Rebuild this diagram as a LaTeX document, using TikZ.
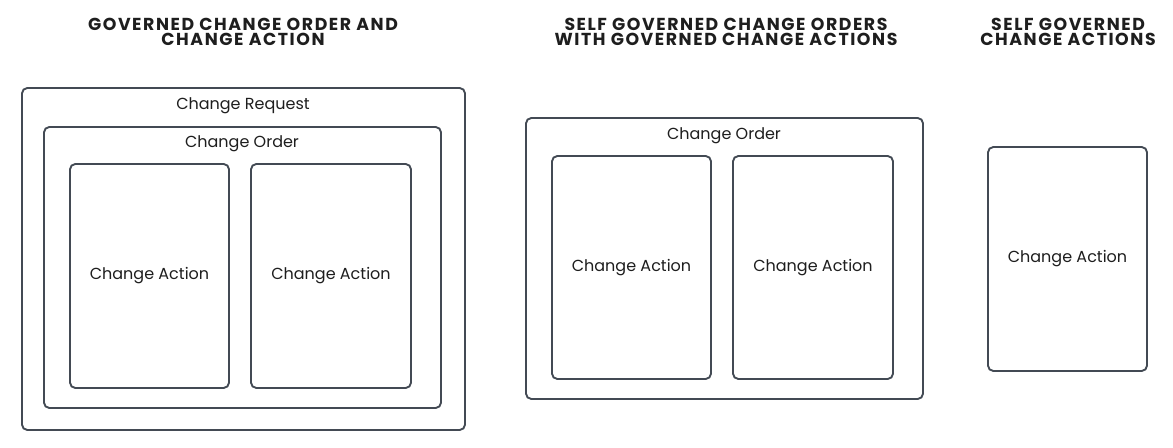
\documentclass[tikz,border=0pt]{standalone}
\usepackage{fontspec}
\setmainfont{Poppins}
\newfontfamily\titlefont[LetterSpace=9]{Poppins}
\usetikzlibrary{fit}
\definecolor{edge}{HTML}{434A54}
\definecolor{ink}{HTML}{1E1E1E}
\tikzset{
  frame/.style={draw=edge, line width=1.4pt, rounded corners=4pt, inner sep=0pt, fill=white},
  lbl/.style={text=ink, font=\fontsize{12}{14}\selectfont, inner sep=0pt},
  ttl/.style={text=ink, font=\titlefont\bfseries\fontsize{13}{11.5}\selectfont, align=center, inner sep=0pt},
}
\begin{document}
\begin{tikzpicture}[x=0.75pt,y=-0.75pt]
\useasboundingbox[fill=white] (0,0) rectangle (1173,448);
% titles
\node[ttl] (t1) at (243,32) {GOVERNED CHANGE ORDER AND\\CHANGE ACTION};
\node[ttl] (t2) at (726,32) {SELF GOVERNED CHANGE ORDERS\\WITH GOVERNED CHANGE ACTIONS};
\node[ttl] (t3) at (1068,32) {SELF GOVERNED\\CHANGE ACTIONS};
% group 1
\coordinate (r1a) at (22,88);  \coordinate (r1b) at (465,430);
\coordinate (o1a) at (44,127); \coordinate (o1b) at (441,408);
\coordinate (a1a) at (70,164); \coordinate (a1b) at (229,388);
\coordinate (a2a) at (251,164); \coordinate (a2b) at (411,388);
\node[frame, fit=(r1a)(r1b)] (cr) {};
\node[frame, fit=(o1a)(o1b)] (co1) {};
\node[frame, fit=(a1a)(a1b)] (ca1) {};
\node[frame, fit=(a2a)(a2b)] (ca2) {};
\node[lbl] (crl) at (243,106) {Change Request};
\node[lbl] (co1l) at (242,144) {Change Order};
\node[lbl] (ca1l) at (ca1.center) {Change Action};
\node[lbl] (ca2l) at (ca2.center) {Change Action};
% group 2
\coordinate (o2a) at (526,118); \coordinate (o2b) at (923,399);
\coordinate (a3a) at (552,156); \coordinate (a3b) at (711,379);
\coordinate (a4a) at (733,156); \coordinate (a4b) at (893,379);
\node[frame, fit=(o2a)(o2b)] (co2) {};
\node[frame, fit=(a3a)(a3b)] (ca3) {};
\node[frame, fit=(a4a)(a4b)] (ca4) {};
\node[lbl] (co2l) at (724,136) {Change Order};
\node[lbl] (ca3l) at (ca3.center) {Change Action};
\node[lbl] (ca4l) at (ca4.center) {Change Action};
% group 3
\coordinate (a5a) at (988,147); \coordinate (a5b) at (1147,371);
\node[frame, fit=(a5a)(a5b)] (ca5) {};
\node[lbl] (ca5l) at (ca5.center) {Change Action};
\end{tikzpicture}
\end{document}
